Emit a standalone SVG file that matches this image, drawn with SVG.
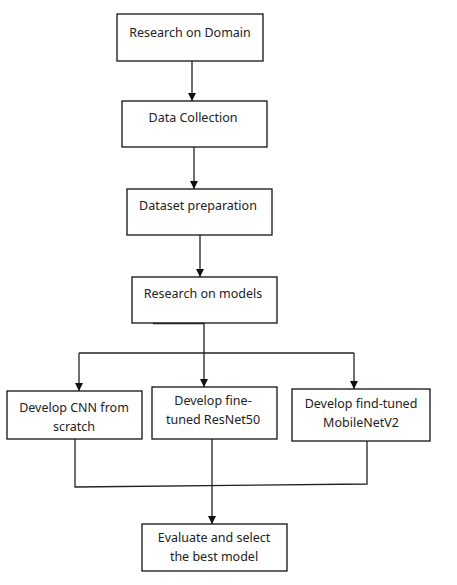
<svg xmlns="http://www.w3.org/2000/svg" width="457" height="585" viewBox="0 0 457 585">
<defs>
<marker id="ah" viewBox="0 0 8 10" refX="8" refY="5" markerWidth="8" markerHeight="10" markerUnits="userSpaceOnUse" orient="auto">
<path d="M0,1 L8,5 L0,9 z" fill="#111"/>
</marker>
</defs>
<style>
.box{fill:#fff;stroke:#111;stroke-width:1.3}
.t{font-family:"Noto Sans","Open Sans",sans-serif;font-size:12.5px;fill:#222;text-anchor:middle}
.c{fill:none;stroke:#222;stroke-width:1.3}
</style>
<rect width="457" height="585" fill="#fff"/>
<g id="n1"><rect class="box" x="117" y="14" width="146" height="47"/><text class="t" x="190" y="37">Research on Domain</text></g>
<g id="n2"><rect class="box" x="122" y="101" width="145" height="46"/><text class="t" x="193" y="122">Data Collection</text></g>
<g id="n3"><rect class="box" x="127" y="189" width="145" height="46"/><text class="t" x="198" y="210">Dataset preparation</text></g>
<g id="n4"><rect class="box" x="132" y="277" width="145" height="46"/><text class="t" x="203" y="298">Research on models</text></g>
<g id="n5"><rect class="box" x="7" y="391" width="135" height="48"/><text class="t" x="74" y="412">Develop CNN from</text><text class="t" x="74" y="431">scratch</text></g>
<g id="n6"><rect class="box" x="152" y="387" width="125" height="52"/><text class="t" x="213" y="405">Develop fine-</text><text class="t" x="213" y="424">tuned ResNet50</text></g>
<g id="n7"><rect class="box" x="292" y="389" width="138" height="52"/><text class="t" x="361" y="408">Develop find-tuned</text><text class="t" x="361" y="427">MobileNetV2</text></g>
<g id="n8"><rect class="box" x="142" y="524" width="145" height="47"/><text class="t" x="214" y="542">Evaluate and select</text><text class="t" x="214" y="561">the best model</text></g>
<g id="connectors">
<path class="c" d="M192,61 V101" marker-end="url(#ah)"/>
<path class="c" d="M194,147 V189" marker-end="url(#ah)"/>
<path class="c" d="M200,235 V277" marker-end="url(#ah)"/>
<path class="c" d="M153,323.5 H204" stroke-width="2"/>
<path class="c" d="M204,323 V387" marker-end="url(#ah)"/>
<path class="c" d="M79,353 H354"/>
<path class="c" d="M79,353 V391" marker-end="url(#ah)"/>
<path class="c" d="M354,353 V389" marker-end="url(#ah)"/>
<path class="c" d="M75,439 V487 L367,484 V441"/>
<path class="c" d="M212,439 V524" marker-end="url(#ah)"/>
</g>
</svg>
